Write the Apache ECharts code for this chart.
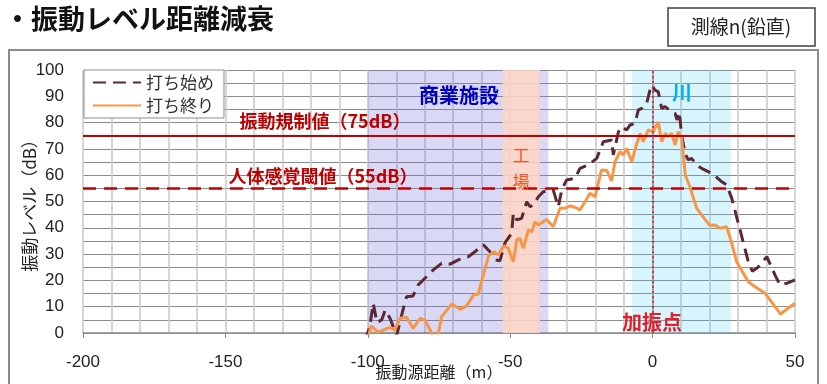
<!DOCTYPE html>
<html>
<head>
<meta charset="utf-8">
<script src="https://cdn.jsdelivr.net/npm/echarts@6/dist/echarts.min.js"></script>
<style>
  html, body { margin: 0; padding: 0; background: #fff; }
  #main { width: 827px; height: 384px; }
</style>
</head>
<body>
<div id="main"></div>
<script>
// 打ち始め (start of work)
const startDist = [-101, -99.3, -98.1, -96.8, -95.1, -93.9, -92.2, -89.9, -87.5, -86.4, -84.1, -82.3, -79.4, -77, -74.1, -71.1, -68.2, -64.7, -62.4, -59.4, -57.1, -55.3, -53.6, -51.8, -49.5, -48.9, -47.7, -46, -44.2, -43, -41.9, -40.1, -38.4, -34.9, -33.1, -31.9, -30.2, -27.2, -25.5, -22.6, -19.6, -18.5, -17.3, -14.4, -13.8, -12, -10.9, -9.1, -7.9, -6.2, -5, -3.8, -2.1, -0.9, -0.3, 0.8, 2, 3.2, 4.4, 6.7, 7.9, 8.6, 9, 9.6, 10.2, 11.4, 12.5, 13.7, 15.5, 17.2, 20.8, 24.3, 26, 27.8, 30.7, 33.6, 35, 37, 40.1, 43, 44.7, 47.1, 50];
const startLevel = [-3, 2.4, 11.3, 4, 5, 8.7, 5.6, -1, 9.4, 13.8, 14.1, 18.3, 21.4, 24, 26.5, 26.2, 27.8, 29, 30.9, 33.5, 30.9, 27.8, 27.5, 34.4, 37.9, 45.5, 43, 43.6, 49.9, 48, 48.7, 51.8, 53.7, 54.4, 48, 54.4, 58.2, 58.8, 62.6, 63.9, 66.4, 69.5, 72.7, 73.4, 67.7, 76.5, 78.4, 77.2, 79.1, 79.7, 84.8, 85.4, 87.3, 92.4, 94.3, 92.4, 91.7, 85.4, 86.1, 84.1, 83.5, 81, 84.1, 81.6, 75.3, 68.3, 65.8, 66.4, 63.9, 62.6, 60.7, 57.5, 56.3, 51.2, 39.2, 27.1, 23.5, 25, 29, 22, 18.3, 18.9, 20.2];

// 打ち終り (end of work)
const endDist = [-99.8, -98.9, -96.3, -92.2, -90.5, -88.7, -86.4, -84.1, -81.6, -79.9, -77.6, -76.4, -75.2, -74.1, -70.5, -67.6, -65.3, -62.9, -61.2, -59.6, -57.5, -55.6, -54.2, -52.2, -50.7, -48.9, -47.7, -46.6, -45.4, -43.6, -42.4, -41.3, -40.1, -38.4, -37.2, -34.9, -32.5, -30.8, -29, -27.2, -25.5, -23.7, -22, -20.2, -19.1, -17.9, -16.1, -14.4, -13.2, -11.4, -10.3, -9.1, -7.3, -6.2, -4.4, -3.3, -1.5, 0.2, 2, 3.2, 4.4, 5.5, 6.7, 7.9, 9, 10.2, 11.5, 13.1, 15.5, 17.2, 20, 21.9, 23.7, 26, 27.8, 29.5, 33.6, 36, 39.5, 43, 44.9, 47.6, 50];
const endLevel = [-2, 2.7, 0.2, 2.2, 1.1, 5.6, 6, 1.8, 5.6, 4.9, 0, -3, 0, 6.2, 11, 9, 10.3, 14.4, 14.8, 21.4, 29.5, 30.9, 29.7, 33.2, 32.2, 27.1, 35.4, 36, 32.2, 39.2, 38.5, 42.3, 41.1, 42.3, 43.2, 40.4, 47.4, 47.4, 48.3, 47.8, 46.8, 49.9, 53.1, 51.8, 56.9, 62, 61.8, 57.8, 65.1, 69, 67.7, 70.2, 65.1, 69.6, 75.9, 72.7, 77.2, 76.5, 80.3, 72.7, 75.9, 74.6, 75.9, 71.5, 76.5, 74, 60, 55.6, 47.4, 44.9, 41, 41.1, 39.8, 40.4, 34.1, 27.1, 19.5, 17.6, 15.1, 10, 7.2, 9.4, 11.3];

// zones along the line
const zones = [
  { name: '商業施設', from: -100, to: -36.6, color: 'rgba(103,103,215,0.25)' },
  { name: '工場', from: -52.6, to: -39.5, color: 'rgba(255,214,196,0.85)' },
  { name: '川', from: -7.2, to: 27.5, color: 'rgba(60,200,240,0.2)' }
];
const limitLevel = 75;   // 振動規制値
const senseLevel = 55;   // 人体感覚閾値

const jp = '"Noto Sans CJK JP", sans-serif';
const num = '"Liberation Sans Narrow", "Liberation Sans", sans-serif';
const dark = '#5b2833';
const orange = '#f79646';

const chart = echarts.init(document.getElementById('main'));

const option = {
  animation: false,
  backgroundColor: '#fff',
  grid: { left: 83, right: 32, top: 70, bottom: 51, outerBoundsMode: 'none' },
  xAxis: {
    type: 'value', min: -200, max: 50, interval: 50,
    name: '振動源距離（m）', nameLocation: 'middle', nameGap: 31, nameMoveOverlap: false,
    nameTextStyle: { fontFamily: jp, fontSize: 16, color: '#222', verticalAlign: 'top' },
    axisLine: { onZero: false, lineStyle: { color: '#8c8c8c', width: 1.5 } },
    axisTick: { show: true, length: 5, lineStyle: { color: '#8c8c8c' } },
    axisLabel: { fontFamily: num, fontSize: 17, color: '#222', margin: 21 },
    splitLine: { show: true, lineStyle: { color: '#c8c8c8', width: 1.5 } },
    minorSplitLine: { show: true, lineStyle: { color: '#c8c8c8', width: 1.5 } },
    minorTick: { show: false, splitNumber: 5 }
  },
  yAxis: {
    type: 'value', min: 0, max: 100, interval: 10,
    name: '振動レベル（dB）', nameLocation: 'middle', nameGap: 45, nameRotate: 90, nameMoveOverlap: false,
    nameTextStyle: { fontFamily: jp, fontSize: 17, color: '#222', verticalAlign: 'bottom' },
    axisLine: { show: true, lineStyle: { color: '#8c8c8c', width: 1.5 } },
    axisTick: { show: false },
    axisLabel: { fontFamily: num, fontSize: 17, color: '#222', margin: 19 },
    splitLine: { lineStyle: { color: '#8c8c8c', width: 1 } },
    minorSplitLine: { show: true, lineStyle: { color: '#8c8c8c', width: 1 } },
    minorTick: { show: false, splitNumber: 2 }
  },
  legend: {
    left: 84, top: 70, orient: 'vertical',
    itemWidth: 48, itemHeight: 14, itemGap: 6,
    padding: [4, 10, 4, 8],
    backgroundColor: '#fff', borderColor: '#8c8c8c', borderWidth: 1,
    itemStyle: { opacity: 0 },
    textStyle: { fontFamily: jp, fontSize: 17, color: '#333' },
    data: ['打ち始め', '打ち終り']
  },
  series: [
    {
      name: 'zones', type: 'line', data: [], z: 1, silent: true,
      markArea: {
        silent: true,
        data: zones.map(z => [
          { xAxis: z.from, yAxis: 0, itemStyle: { color: z.color } },
          { xAxis: z.to, yAxis: 100 }
        ])
      }
    },
    {
      name: '打ち始め', type: 'line', symbol: 'none', z: 3,
      data: startDist.map((d, i) => [d, startLevel[i]]),
      lineStyle: { color: dark, width: 3, type: [13, 7] },
      itemStyle: { color: dark }
    },
    {
      name: '打ち終り', type: 'line', symbol: 'none', z: 3,
      data: endDist.map((d, i) => [d, endLevel[i]]),
      lineStyle: { color: orange, width: 3 },
      itemStyle: { color: orange }
    },
    {
      name: 'refs', type: 'line', data: [], z: 4, silent: true,
      markLine: {
        silent: true, symbol: 'none', label: { show: false },
        data: [
          { yAxis: limitLevel, lineStyle: { color: '#c00000', width: 2, type: 'solid' } },
          { yAxis: senseLevel, lineStyle: { color: '#c00000', width: 2.5, type: [13, 8] } },
          { xAxis: 0, lineStyle: { color: '#e8303c', width: 2, type: [2, 3] } }
        ]
      }
    }
  ],
  graphic: [
    { type: 'rect', shape: { x: 9, y: 50, width: 809, height: 360 }, style: { fill: 'none', stroke: '#8c8c8c', lineWidth: 2 }, z: -1 },
    { type: 'text', left: 4, top: 5, style: { text: '・振動レベル距離減衰', font: 'bold 27px ' + jp, fill: '#111' } },
    { type: 'rect', shape: { x: 668, y: 8, width: 147, height: 38 }, style: { fill: '#fff', stroke: '#404040', lineWidth: 1.5 } },
    { type: 'text', x: 741, y: 27, style: { text: '測線n(鉛直)', font: '19px ' + jp, fill: '#222', align: 'center', verticalAlign: 'middle' } },
    { type: 'text', x: 325, y: 121, z: 10, style: { text: '振動規制値（75dB）', font: 'bold 18px ' + jp, fill: '#c00000', align: 'center', verticalAlign: 'middle' } },
    { type: 'text', x: 323, y: 176, z: 10, style: { text: '人体感覚閾値（55dB）', font: 'bold 18px ' + jp, fill: '#c00000', align: 'center', verticalAlign: 'middle' } },
    { type: 'text', x: 459, y: 95, z: 10, style: { text: '商業施設', font: 'bold 20px ' + jp, fill: '#0000c0', align: 'center', verticalAlign: 'middle' } },
    { type: 'text', x: 521, y: 156, z: 10, style: { text: '工', font: '17px ' + jp, fill: '#ff4f1f', align: 'center', verticalAlign: 'middle' } },
    { type: 'text', x: 521, y: 182, z: 10, style: { text: '場', font: '17px ' + jp, fill: '#ff4f1f', align: 'center', verticalAlign: 'middle' } },
    { type: 'text', x: 682, y: 92, z: 10, style: { text: '川', font: 'bold 20px ' + jp, fill: '#00b0f0', align: 'center', verticalAlign: 'middle' } },
    { type: 'text', x: 652, y: 322, z: 10, style: { text: '加振点', font: 'bold 20px ' + jp, fill: '#e0202a', align: 'center', verticalAlign: 'middle' } }
  ]
};

chart.setOption(option);
</script>
</body>
</html>
